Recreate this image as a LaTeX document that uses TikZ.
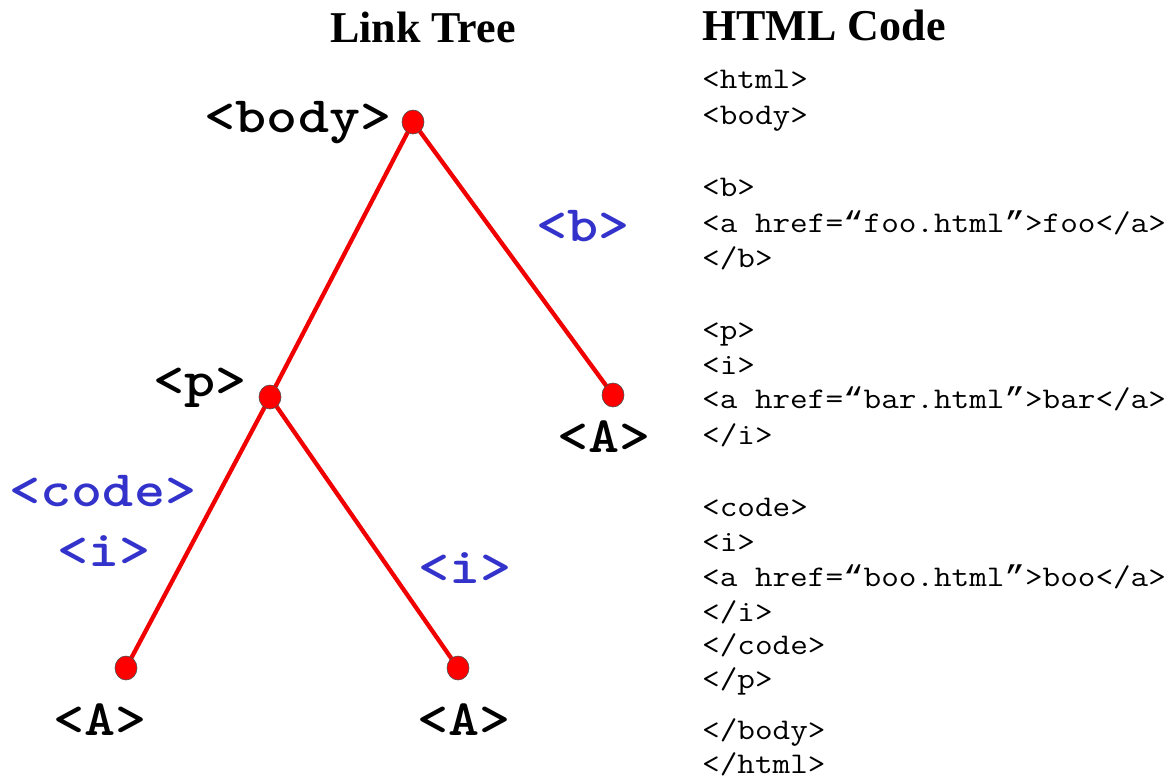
\documentclass[tikz,border=0pt]{standalone}
\usepackage{fontspec}
\usepackage{graphicx}
\usetikzlibrary{shapes.geometric}
\setmainfont{Liberation Serif}
\newfontfamily\myqf{Liberation Mono}
\definecolor{tagblue}{RGB}{51,51,204}
\definecolor{edgered}{RGB}{240,0,0}
\newcommand\mycw[1]{\scalebox{1.14}[1]{#1}}
\newcommand\mytw[1]{\scalebox{1.16}[1]{#1}}
\newcommand\myql{{\myqf “}}
\newcommand\myqr{{\myqf ”}}
\begin{document}
\begin{tikzpicture}[x=1pt,y=-1pt,
  title/.style={font=\fontsize{44}{50}\selectfont\bfseries, anchor=base},
  codeline/.style={font=\ttfamily\fontsize{30}{34}\selectfont, anchor=base west, inner sep=0pt},
  tag/.style={font=\ttfamily\fontsize{51}{56}\selectfont\bfseries, anchor=base, inner sep=0pt},
  etag/.style={tag, text=tagblue},
  dot/.style={ellipse, draw=black!70, line width=0.6pt, fill=red, minimum width=22pt, minimum height=24pt, inner sep=0pt},
  redline/.style={draw=edgered, line width=4.3pt}]
\useasboundingbox (0,0) rectangle (1169,780);
\fill[white] (0,0) rectangle (1169,780);
% titles
\node[title] (t1) at (423,42) {Link Tree};
\node[title] (t2) at (824,40) {HTML Code};
% tree points
\coordinate (body) at (413,122);
\coordinate (p) at (270,397);
\coordinate (a1) at (613,395);
\coordinate (a2) at (126,668);
\coordinate (a3) at (458,668);
\draw[redline] (body) -- (p);
\draw[redline] (body) -- (a1);
\draw[redline] (p) -- (a2);
\draw[redline] (p) -- (a3);
\foreach \n in {body,p,a1,a2,a3} \node[dot] (d\n) at (\n) {};
% tree labels
\node[tag] (lbody) at (298,132) {\mytw{<body>}};
\node[tag] (lp) at (200,396) {\mytw{<p>}};
\node[tag] (la1) at (604,452) {\mytw{<A>}};
\node[tag] (la2) at (100,735) {\mytw{<A>}};
\node[tag] (la3) at (464,735) {\mytw{<A>}};
\node[etag] (eb) at (583,241) {\mytw{<b>}};
\node[etag] (ecode) at (103,506) {\mytw{<code>}};
\node[etag] (ei1) at (104,566) {\mytw{<i>}};
\node[etag] (ei2) at (465,583) {\mytw{<i>}};
% code
\node[codeline] (c1) at (702,88) {\mycw{<html>}};
\node[codeline] (c2) at (702,124) {\mycw{<body>}};
\node[codeline] (c3) at (702,196) {\mycw{<b>}};
\node[codeline] (c4) at (702,232) {\mycw{<a href=\myql foo.html\myqr>foo</a>}};
\node[codeline] (c5) at (702,267) {\mycw{</b>}};
\node[codeline] (c6) at (702,339) {\mycw{<p>}};
\node[codeline] (c7) at (702,374) {\mycw{<i>}};
\node[codeline] (c8) at (702,408) {\mycw{<a href=\myql bar.html\myqr>bar</a>}};
\node[codeline] (c9) at (702,444) {\mycw{</i>}};
\node[codeline] (c10) at (702,516) {\mycw{<code>}};
\node[codeline] (c11) at (702,551) {\mycw{<i>}};
\node[codeline] (c12) at (702,586) {\mycw{<a href=\myql boo.html\myqr>boo</a>}};
\node[codeline] (c13) at (702,621) {\mycw{</i>}};
\node[codeline] (c14) at (702,654) {\mycw{</code>}};
\node[codeline] (c15) at (702,688) {\mycw{</p>}};
\node[codeline] (c16) at (702,739) {\mycw{</body>}};
\node[codeline] (c17) at (702,773) {\mycw{</html>}};
\end{tikzpicture}
\end{document}
